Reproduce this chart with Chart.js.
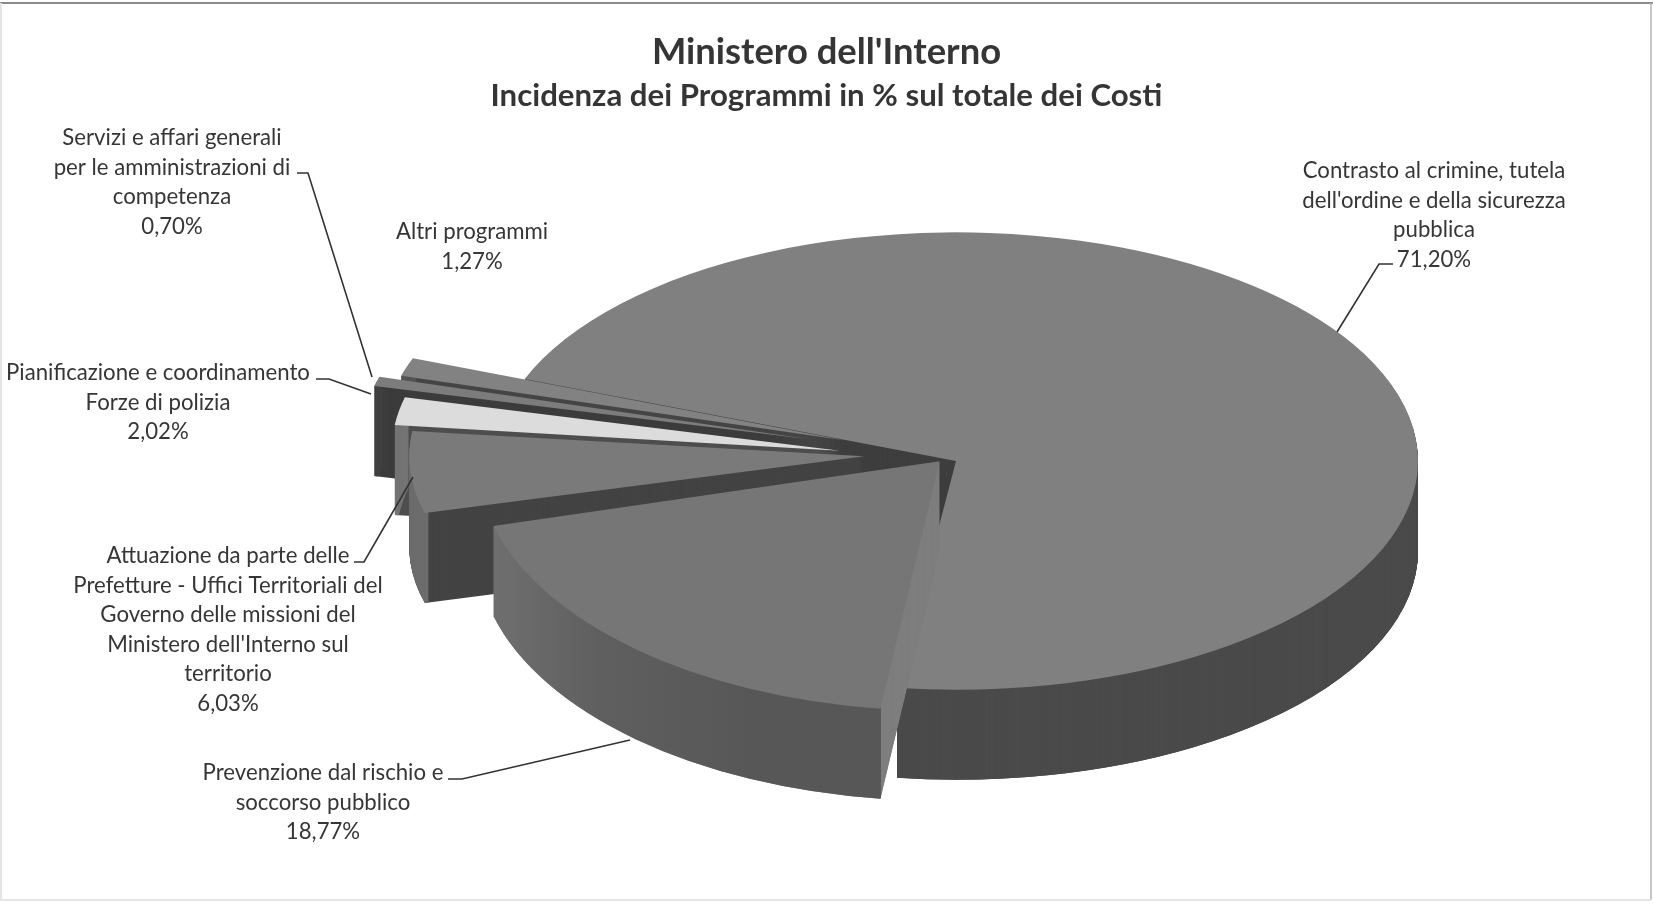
<!DOCTYPE html>
<html><head><meta charset="utf-8">
<style>html,body{margin:0;padding:0;background:#fff}canvas{display:block}#w{width:1653px;height:905px}</style>
<script src="https://cdn.jsdelivr.net/npm/chart.js@4"></script></head>
<body><div id="w"><canvas id="c" width="1653" height="905"></canvas></div>
<script>
const titleText = "Ministero dell'Interno";
const subtitleText = "Incidenza dei Programmi in % sul totale dei Costi";
const categories = ["Contrasto al crimine, tutela dell'ordine e della sicurezza pubblica",
  "Prevenzione dal rischio e soccorso pubblico",
  "Attuazione da parte delle Prefetture - Uffici Territoriali del Governo delle missioni del Ministero dell'Interno sul territorio",
  "Pianificazione e coordinamento Forze di polizia",
  "Servizi e affari generali per le amministrazioni di competenza",
  "Altri programmi"];
const values = [71.20, 18.77, 6.03, 2.02, 0.70, 1.27];
const labelLines = [
  ["Contrasto al crimine, tutela","dell'ordine e della sicurezza","pubblica"],
  ["Prevenzione dal rischio e","soccorso pubblico"],
  ["Attuazione da parte delle","Prefetture - Uffici Territoriali del","Governo delle missioni del","Ministero dell'Interno sul","territorio"],
  ["Pianificazione e coordinamento","Forze di polizia"],
  ["Servizi e affari generali","per le amministrazioni di","competenza"],
  ["Altri programmi"]];
const topColors  = ["#808080","#767676","#7a7a7a","#dcdcdc","#7c7c7c","#828282"];
const cutColors  = ["#3e3e3e","#7e7e7e","#434343","#4e4e4e","#3c3c3c","#454545"];
const wallColors = ["#4a4a4a","#5d5d5d","#6c6c6c","#747474","#404040","#555555"];
const explode    = [0,25,92,118,152,118];
const sliceScale = [1,1,0.985,0.97,0.97,1];
const sliceTilt  = [0.495,0.54,0.48,0.495,0.495,0.495];
const sliceLift  = [0,10,8,0,2,2];
const drawOrder  = [0,5,4,3,2,1];

const PIE_SHIFT_X = 129.5, DEPTH = 90;
const labelBoxes = [
  {x:1434,y:171},{x:323,y:773},{x:228,y:556},{x:158,y:373},{x:172,y:138},{x:472,y:232}];
const leaders = [
  [[1393,264],[1379,264],[1337,332]],
  [[448,779],[462,779],[630,740]],
  [[354,562],[364,562],[413,477]],
  [[316,379],[329,379],[371,394]],
  [[297,173],[308,173],[372,377]]];

function drawWith(arc,ctx,color,inner,scale){
  const o=arc.options, oi=arc.innerRadius, oo=arc.outerRadius;
  arc.options=Object.assign(Object.create(o),{backgroundColor:color,borderWidth:0,borderColor:color});
  arc.outerRadius=oo*scale;
  if(inner) arc.innerRadius=arc.outerRadius-4;
  arc.draw(ctx);
  arc.options=o; arc.innerRadius=oi; arc.outerRadius=oo;
}
const pie3d={id:'pie3d',
  beforeDatasetDraw(chart){
    const ctx=chart.ctx, arcs=chart.getDatasetMeta(0).data;
    const grad=ctx.createLinearGradient(360,0,640,0);
    grad.addColorStop(0,'#727272');grad.addColorStop(0.45,'#5f5f5f');grad.addColorStop(1,'#575757');
    for(const i of drawOrder){
      const a=arcs[i], mid=(a.startAngle+a.endAngle)/2, k=sliceTilt[i];
      const ox=Math.cos(mid)*explode[i], oy=Math.sin(mid)*explode[i];
      const wall=i===1?grad:wallColors[i];
      const place=(d)=>{ctx.save();
        ctx.translate(a.x+PIE_SHIFT_X+ox,a.y+oy*k-sliceLift[i]+d);
        ctx.scale(1,k);
        ctx.translate(-a.x,-a.y);};
      for(let d=DEPTH;d>0;d-=1){place(d);drawWith(a,ctx,cutColors[i],false,sliceScale[i]);ctx.restore();}
      for(let d=DEPTH;d>0;d-=1){place(d);drawWith(a,ctx,wall,true,sliceScale[i]);ctx.restore();}
      place(0);drawWith(a,ctx,topColors[i],false,sliceScale[i]);ctx.restore();
    }
    return false;
  },
  afterDraw(chart){
    const ctx=chart.ctx;
    ctx.save();
    ctx.strokeStyle='#333';ctx.lineWidth=1.6;
    for(const l of leaders){ctx.beginPath();l.forEach((p,k)=>k?ctx.lineTo(p[0],p[1]):ctx.moveTo(p[0],p[1]));ctx.stroke();}
    ctx.fillStyle='#363636';ctx.textAlign='center';ctx.textBaseline='middle';ctx.font='22.2px Lato';
    labelLines.forEach((lines,i)=>{
      const all=lines.concat([values[i].toFixed(2).replace('.',',')+'%']);
      all.forEach((t,k)=>ctx.fillText(t,labelBoxes[i].x,labelBoxes[i].y+k*29.5));
    });
    ctx.strokeStyle='#8a8a8a';ctx.lineWidth=2;ctx.beginPath();ctx.moveTo(0,3);ctx.lineTo(1653,3);ctx.stroke();
    ctx.strokeStyle='#b5b5b5';ctx.lineWidth=1.5;ctx.beginPath();ctx.moveTo(1651,3);ctx.lineTo(1651,900);ctx.stroke();
    ctx.strokeStyle='#e4e4e4';ctx.lineWidth=2;ctx.beginPath();ctx.moveTo(1,3);ctx.lineTo(1,900);ctx.lineTo(1651,900);ctx.stroke();
    ctx.restore();
  }};
new Chart(document.getElementById('c'),{
  type:'pie',
  data:{labels:categories,datasets:[{data:values,backgroundColor:topColors,borderWidth:0}]},
  options:{responsive:false,animation:false,events:[],rotation:291,radius:462,
    layout:{padding:{bottom:98}},
    plugins:{legend:{display:false},tooltip:{enabled:false},
      title:{display:true,text:titleText,color:'#353535',font:{family:'Lato',size:36.4,weight:'bold'},padding:{top:30,bottom:4}},
      subtitle:{display:true,text:subtitleText,color:'#353535',font:{family:'Lato',size:31.2,weight:'bold'},padding:{top:0,bottom:0}}}},
  plugins:[pie3d]});
</script></body></html>
